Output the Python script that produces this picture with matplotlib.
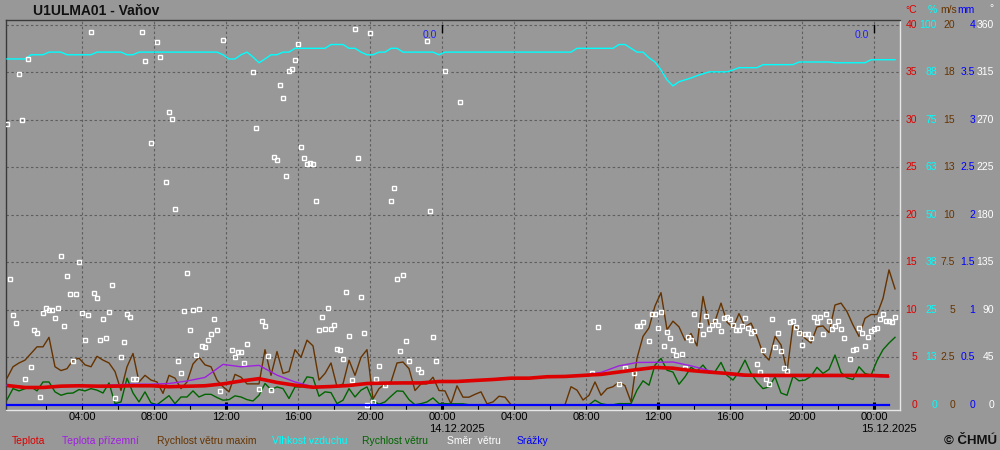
import numpy as np
import matplotlib
matplotlib.use('Agg')
from matplotlib import pyplot as plt

plt.rcParams['font.family'] = ['Liberation Sans', 'DejaVu Sans']

# cas v hodinach od 13.12.2025 00:00, data zacinaji 12.12. 23:50
start_h = -1 / 6

# 20min hodnoty
naraz = [1.4, 2.0, 2.2, 2.35, 2.7, 3.05, 3.05, 3.55, 2.0, 1.8,
         1.9, 2.35, 2.45, 2.1, 2.0, 2.55, 2.35, 2.2, 1.75, 0.75,
         2.0, 2.7, 1.2, 1.55, 1.3, 1.2, 0.6, 1.55, 1.4, 0.85,
         1.2, 2.15, 2.5, 2.1, 2.0, 1.3, 0.95, 0.68, 1.6, 1.45,
         1.1, 1.1, 1.1, 2.9, 1.55, 2.8, 1.65, 1.75, 2.9, 2.5,
         3.4, 3.1, 1.3, 1.65, 2.2, 0.95, 1.1, 2.35, 1.55, 2.5,
         2.9, 0.3, 0.85, 1.1, 1.2, 2.2, 2.25, 1.9, 0.75, 1.1,
         1.1, 1.45, 0.75, 0.73, 0.05, 1.0, 0.4, 0.4, 0.55, 0.68,
         0.05, 0.15, 0.45, 0.4, 0.0, 0.0, 0.0, 0.0, 0.0, 0.0,
         0.0, 0.0, 0.0, 0.0, 0.95, 0.77, 0.25, 0.5, 1.2, 0.5,
         0.85, 0.95, 1.2, 1.0, 0.15, 2.45, 3.6, 4.05, 5.2, 5.9,
         3.95, 4.4, 4.1, 3.4, 3.75, 3.1, 5.7, 4.2, 4.4, 5.35,
         4.35, 4.05, 4.8, 4.1, 4.3, 3.6, 2.7, 2.35, 3.6, 3.15,
         1.75, 4.2, 3.95, 3.5, 3.25, 4.1, 4.15, 3.8, 5.25, 5.35,
         4.9, 4.2, 3.6, 4.55, 4.75, 4.75, 5.6, 7.1, 6.1]  # m/s

vitr = [0.27, 0.85, 0.73, 0.85, 0.95, 0.73, 1.2, 1.2, 0.68, 0.5,
        0.6, 0.62, 0.8, 0.73, 0.85, 0.77, 0.62, 1.15, 0.06, 0.15,
        1.4, 0.62, 0.15, 0.68, 0.1, 0.0, 0.24, 0.48, 0.06, 0.41,
        0.41, 0.73, 0.41, 0.55, 0.55, 0.38, 0.24, 0.27, 0.47, 0.41,
        0.27, 0.2, 0.5, 1.12, 0.8, 0.94, 0.85, 0.33, 0.94, 0.94,
        1.47, 1.42, 0.45, 0.68, 0.64, 0.06, 0.24, 0.85, 0.41, 0.77,
        0.94, 0.2, 0.03, 0.15, 0.45, 0.73, 0.71, 0.27, 0.0, 0.06,
        0.15, 0.36, 0.06, 0.06, 0.05, 0.05, 0.05, 0.0, 0.0, 0.0,
        0.0, 0.0, 0.0, 0.0, 0.0, 0.0, 0.0, 0.0, 0.0, 0.0,
        0.0, 0.0, 0.0, 0.0, 0.0, 0.0, 0.0, 0.0, 0.24, 0.06,
        0.0, 0.0, 0.06, 0.06, 0.06, 0.77, 1.26, 1.03, 2.09, 2.44,
        1.82, 1.72, 1.08, 1.47, 1.97, 1.77, 2.09, 1.68, 1.74, 2.23,
        1.55, 1.3, 1.74, 2.35, 1.65, 1.2, 0.85, 0.94, 1.47, 0.62,
        0.5, 1.5, 1.26, 1.3, 1.5, 1.97, 1.65, 1.86, 2.62, 1.7,
        1.42, 1.33, 2.0, 1.65, 1.55, 2.32, 2.9, 3.25, 3.55]  # m/s

vlhkost = [91.0, 91.0, 91.0, 91.0, 92.1, 92.1, 92.1, 92.8, 92.8, 92.8,
           92.1, 92.1, 92.1, 92.1, 92.1, 92.8, 92.8, 92.8, 92.8, 92.8,
           92.1, 92.1, 92.8, 92.8, 92.8, 92.8, 92.8, 92.8, 92.8, 92.8,
           92.8, 92.8, 92.8, 92.8, 92.8, 92.8, 92.1, 91.0, 91.0, 92.1,
           92.8, 91.5, 90.0, 91.0, 92.1, 92.1, 92.8, 92.8, 93.8, 93.8,
           93.8, 93.8, 93.8, 93.8, 94.8, 94.8, 94.8, 93.8, 93.8, 92.8,
           92.1, 92.1, 92.8, 92.8, 93.8, 93.8, 92.8, 92.8, 92.8, 92.8,
           92.8, 92.8, 92.1, 92.8, 92.8, 92.8, 92.8, 92.8, 92.8, 92.8,
           92.8, 92.8, 92.8, 92.8, 92.8, 92.8, 92.8, 92.8, 92.8, 92.8,
           92.8, 92.8, 92.8, 92.8, 92.8, 93.8, 93.8, 93.8, 93.8, 93.8,
           93.8, 93.8, 94.8, 94.8, 93.8, 92.8, 92.8, 91.3, 90.2, 88.1,
           85.5, 83.9, 85.0, 85.5, 86.0, 86.6, 87.1, 87.6, 87.6, 87.6,
           87.6, 88.1, 88.7, 88.7, 88.7, 88.7, 89.5, 89.5, 89.5, 89.5,
           89.5, 89.5, 90.2, 90.2, 90.2, 90.2, 90.2, 90.2, 90.0, 90.0,
           90.0, 90.0, 90.0, 90.0, 90.8, 90.8, 90.8, 90.8, 90.8]  # %

# hodinove hodnoty
teplota = [2.03, 1.82, 1.82, 1.96, 2.0, 1.96, 1.96, 2.0, 2.0, 1.9,
           1.95, 2.0, 2.2, 2.5, 2.75, 2.35, 2.06, 1.85, 1.92, 2.03,
           2.24, 2.28, 2.3, 2.3, 2.45, 2.45, 2.56, 2.66, 2.8, 2.8,
           2.95, 2.98, 3.09, 3.2, 3.45, 3.7, 3.93, 3.85, 3.6, 3.44,
           3.3, 3.12, 3.09, 3.09, 3.09, 3.09, 3.09, 3.09, 3.09, 3.02]
teplota_prizemni = [2.05, 1.85, 1.85, 1.98, 2.0, 1.98, 2.1, 2.17, 2.17, 2.24,
                    2.5, 2.88, 4.25, 4.0, 4.15, 3.12, 2.4, 1.9, 1.92, 2.03,
                    2.24, 2.28, 2.3, 2.3, 2.45, 2.45, 2.56, 2.7, 2.85, 2.8,
                    2.95, 2.98, 3.1, 3.4, 4.1, 4.45, 4.47, 4.5, 4.1, 3.6,
                    3.2, 3.0, 2.98, 2.98, 2.98, 2.98, 2.98, 2.98, 2.98, 2.95]
srazky = [0.0, 0.0, 0.0, 0.0, 0.0, 0.0, 0.0, 0.0, 0.0, 0.0,
          0.0, 0.0, 0.0, 0.0, 0.0, 0.0, 0.0, 0.0, 0.0, 0.0,
          0.0, 0.0, 0.0, 0.0, 0.0, 0.0, 0.0, 0.0, 0.0, 0.0,
          0.0, 0.0, 0.0, 0.0, 0.0, 0.0, 0.0, 0.0, 0.0, 0.0,
          0.0, 0.0, 0.0, 0.0, 0.0, 0.0, 0.0, 0.0, 0.0, 0.0]  # mm

# smer vetru - 10min sloty od zacatku
smer_slot = [0, 1, 2, 3, 4, 5, 6, 7, 8, 9, 10, 11, 12, 13, 14, 15, 16, 17, 18, 19,
             20, 21, 22, 23, 24, 25, 26, 27, 28, 29, 30, 31, 32, 33, 34, 35, 36, 38, 39, 40,
             41, 42, 43, 45, 46, 48, 50, 51, 53, 54, 55, 56, 57, 58, 59, 60, 61, 62, 63, 64,
             65, 66, 67, 68, 69, 70, 71, 72, 75, 76, 77, 78, 79, 80, 82, 83, 84, 85, 86, 87,
             88, 89, 90, 91, 92, 93, 94, 95, 96, 97, 98, 99, 100, 101, 102, 103, 104, 105, 106, 107,
             108, 109, 110, 111, 112, 113, 114, 115, 116, 117, 118, 119, 120, 121, 122, 123, 124, 126, 128, 129,
             130, 131, 132, 133, 134, 137, 138, 140, 141, 142, 143, 146, 151,
             195, 197, 204, 206, 209, 210, 211, 212, 214, 215, 216, 217, 218, 219, 220, 221, 222, 223, 225, 226,
             227, 228, 229, 231, 232, 233, 234, 235, 236, 237, 238, 239, 240, 241, 242, 243, 244, 245, 246, 247,
             248, 249, 250, 251, 252, 253, 254, 255, 256, 257, 258, 259, 260, 261, 262, 263, 264, 265, 266, 267,
             268, 269, 270, 271, 272, 273, 274, 275, 276, 277, 278, 279, 281, 282, 283, 284, 285, 286, 287, 288,
             289, 290, 291, 292, 293, 294, 295, 296]
smer_deg = [266, 119, 85, 77, 313, 270, 24, 328, 36, 71, 68, 7, 87, 92, 90, 90, 82, 92, 141, 75,
            122, 105, 41, 105, 135, 87, 61, 85, 353, 106, 101, 61, 81, 63, 88, 113, 6, 45, 59, 86,
            83, 24, 24, 353, 326, 248, 344, 329, 211, 277, 271, 185, 41, 30, 89, 125, 71, 90, 47, 91,
            56, 55, 61, 67, 81, 71, 13, 346, 52, 45, 50, 50, 40, 58, 315, 262, 15, 79, 75, 46,
            14, 235, 232, 303, 291, 217, 316, 318, 327, 342, 244, 234, 228, 229, 228, 193, 71, 83, 72, 92,
            72, 76, 53, 52, 43, 107, 65, 23, 356, 234, 102, 68, 0, 352, 3, 24, 37, 19, 193, 205,
            119, 51, 123, 60, 41, 34, 31, 345, 184, 64, 41, 316, 287,
            30, 74, 20, 35, 30, 75, 75, 78, 60, 86, 86, 73, 88, 56, 69, 63, 52, 47, 48, 35,
            64, 61, 86, 76, 67, 84, 72, 76, 79, 76, 70, 82, 83, 81, 76, 71, 71, 75, 82, 73,
            68, 70, 39, 31, 52, 24, 20, 81, 55, 68, 51, 35, 32, 78, 79, 74, 68, 57, 67, 67,
            63, 83, 78, 83, 67, 86, 79, 72, 75, 79, 72, 63, 43, 52, 53, 73, 68, 56, 64, 70,
            72, 73, 81, 86, 79, 79, 78, 83]

srazky_den = [0.0, 0.0]
cas_ticks = [4, 8, 12, 16, 20, 24, 28, 32, 36, 40, 44, 48]
cas_labels = ['04:00', '08:00', '12:00', '16:00', '20:00', '00:00',
              '04:00', '08:00', '12:00', '16:00', '20:00', '00:00']
datum_ticks = [24, 48]
datum_labels = ['14.12.2025', '15.12.2025']

# popisky stupnic vpravo (radek = mrizka po 5 °C)
stup_c = [40, 35, 30, 25, 20, 15, 10, 5, 0]
stup_pct = ['100', '88', '75', '63', '50', '38', '25', '13', '0']
stup_ms = ['20', '18', '15', '13', '10', '7.5', '5', '2.5', '0']
stup_mm = ['4', '3.5', '3', '2.5', '2', '1.5', '1', '0.5', '0']
stup_deg = ['360', '315', '270', '225', '180', '135', '90', '45', '0']

BG = '#989898'
RED = '#dd0000'
PURPLE = '#a020e0'
BROWN = '#663300'
CYAN = '#00ffff'
GREEN = '#006400'
BLUE = '#0000ff'

t20 = start_h + np.arange(len(naraz)) / 3
t60 = start_h + np.arange(len(teplota))
t_smer = start_h + np.array(smer_slot) / 6

fig = plt.figure(figsize=(10, 4.5), dpi=100, facecolor=BG)
ax = fig.add_axes([0.006, 40 / 450, 0.894, 390 / 450], facecolor=BG)
ax.set_xlim(-4 / 18, 890 / 18 - 0.0)
ax.set_ylim(-0.55, 40.5)

# mrizka
for yy in range(5, 45, 5):
    ax.axhline(yy, color='#5e5e5e', lw=0.8, ls=(0, (2.2, 2.2)), zorder=1)
for xx in cas_ticks:
    ax.axvline(xx, color='#5e5e5e', lw=0.8, ls=(0, (2.2, 2.2)), zorder=1)

# vse prepocteno na stupnici °C (0..40)
ax.plot(t20, np.array(naraz) * 2, color=BROWN, lw=1.0, zorder=3)
ax.plot(t20, np.array(vitr) * 2, color=GREEN, lw=1.0, zorder=3)
ax.plot(t20, np.array(vlhkost) * 0.4, color=CYAN, lw=1.0, zorder=3)
ax.plot(t_smer, np.array(smer_deg) / 9, ls='none', marker='s', ms=3.4,
        mfc='none', mec='white', mew=1.0, zorder=4)
ax.plot(t60, teplota_prizemni, color=PURPLE, lw=1.0, zorder=5)
ax.plot(t60, teplota, color=RED, lw=2.6, zorder=6, solid_capstyle='butt')
ax.plot(t60, np.array(srazky) * 10, color=BLUE, lw=1.6, zorder=7)

# denni uhrny srazek
for d, val in zip(datum_ticks, srazky_den):
    ax.annotate(f'{val:.1f}', xy=(d, 38.9), xytext=(-5, 0), textcoords='offset pixels',
                ha='right', va='center', color='#2020ff', fontsize=7.5)
    ax.plot([d, d], [39.2, 39.95], color='black', lw=1.0, zorder=6)

# ramecek
for s in ['left', 'top']:
    ax.spines[s].set_color('#3a3a3a')
for s in ['right', 'bottom']:
    ax.spines[s].set_color('#e6e6e6')
for s in ax.spines.values():
    s.set_linewidth(1.0)

ax.set_xticks([12, 24, 36, 48])
ax.set_xticks([h for h in range(2, 48, 2) if h % 12 != 0], minor=True)
ax.tick_params(axis='x', which='major', direction='in', length=5.5, width=2.2,
               color='black', labelbottom=False)
ax.tick_params(axis='x', which='minor', direction='in', length=3.5, width=0.8,
               color='black')
ax.set_yticks([])

xt = ax.get_xaxis_transform()
for h, lab in zip(cas_ticks, cas_labels):
    ax.annotate(lab, xy=(h, 0), xycoords=xt, xytext=(0, -7), textcoords='offset pixels',
                ha='center', va='center', fontsize=8, annotation_clip=False)
for h, lab in zip(datum_ticks, datum_labels):
    ax.annotate(lab, xy=(h, 0), xycoords=xt, xytext=(-13, -19), textcoords='offset pixels',
                ha='left', va='center', fontsize=8, annotation_clip=False)

# stupnice vpravo
yt = ax.get_yaxis_transform()
sloupce = [(17, RED), (37, CYAN), (55, BROWN), (75, BLUE), (94, 'white')]
for i, v in enumerate(stup_c):
    texty = [str(v), stup_pct[i], stup_ms[i], stup_mm[i], stup_deg[i]]
    for (dx, col), txt in zip(sloupce, texty):
        ax.annotate(txt, xy=(1, v), xycoords=yt, xytext=(dx, 0), textcoords='offset pixels',
                    ha='right', va='center', color=col, fontsize=7.5, annotation_clip=False)

hlavicka = [('°C', 917, RED), ('%', 937, CYAN), ('m/s', 957, BROWN), ('mm', 975, BLUE)]
for txt, px, col in hlavicka:
    fig.text(px / 1000, 1 - 10 / 450, txt, ha='right', va='center', color=col, fontsize=7.5)
fig.text(994 / 1000, 1 - 8 / 450, '°', ha='right', va='center', color='white', fontsize=7.5)

fig.text(33 / 1000, 1 - 11 / 450, 'U1ULMA01 - Vaňov', fontsize=10, fontweight='bold',
         va='center', color='#111111')

legenda = [('Teplota', 12, RED), ('Teplota přízemní', 62, PURPLE),
           ('Rychlost větru maxim', 157, BROWN), ('Vlhkost vzduchu', 272, CYAN),
           ('Rychlost větru', 362, GREEN), ('Směr  větru', 447, 'white'), ('Srážky', 517, BLUE)]
for txt, px, col in legenda:
    fig.text(px / 1000, 1 - 441 / 450, txt, color=col, fontsize=7.5, va='center')

fig.text(997 / 1000, 1 - 441 / 450, '© ČHMÚ', ha='right', va='center', fontsize=9.5,
         fontweight='bold', color='#111111')

fig.savefig('out.png', dpi=100, facecolor=BG)
